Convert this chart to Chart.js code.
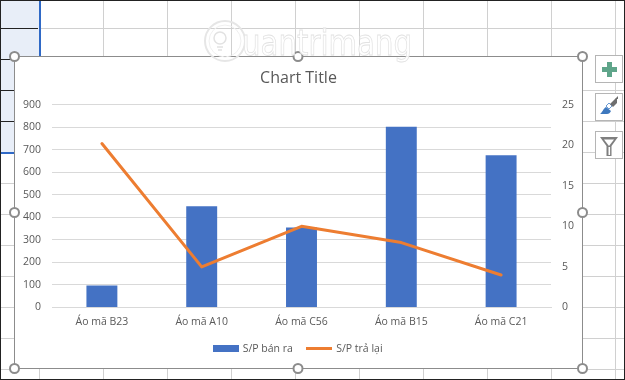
<!DOCTYPE html>
<html>
<head>
<meta charset="utf-8">
<title>Chart Title</title>
<script src="https://cdn.jsdelivr.net/npm/chart.js@4"></script>
<style>
  html, body { margin: 0; padding: 0; background: #fff; }
  #sheet { position: relative; width: 625px; height: 380px; overflow: hidden; }
  #sheet svg { position: absolute; left: 0; top: 0; }
  #box { position: absolute; left: 15px; top: 57px; width: 567px; height: 311px; background: #fff; }
</style>
</head>
<body>
<div id="sheet">
  <svg id="under" width="625" height="380"></svg>
  <div id="box"><canvas id="combo" width="567" height="311"></canvas></div>
  <svg id="over" width="625" height="380"></svg>
</div>
<script>
const categories = ["Áo mã B23", "Áo mã A10", "Áo mã C56", "Áo mã B15", "Áo mã C21"];
const soldValues = [98, 449, 355, 802, 675];
const returnedValues = [20.2, 5, 10, 8, 4];
const soldLabel = "S/P bán ra";
const returnedLabel = "S/P trả lại";

const BLUE = "#4472C4";
const ORANGE = "#ED7D31";
const TEXT = "#595959";
const GRID = "#D9D9D9";
const FONT = "'Open Sans'";

// excel sheet behind the chart, not chart data
function sheetLines() {
  let s = '<rect x="1" y="1" width="38" height="151" fill="#E8EEF8"/>';
  [103, 167, 231, 295, 359, 423, 487, 551].forEach((x) => {
    s += `<line x1="${x + 0.5}" y1="1" x2="${x + 0.5}" y2="56" stroke="#D0D0D0"/>`;
    s += `<line x1="${x + 0.5}" y1="369" x2="${x + 0.5}" y2="379" stroke="#D0D0D0"/>`;
  });
  s += '<line x1="39.5" y1="369" x2="39.5" y2="379" stroke="#D0D0D0"/>';
  s += '<line x1="615.5" y1="1" x2="615.5" y2="379" stroke="#D0D0D0"/>';
  s += '<line x1="41" y1="28.5" x2="625" y2="28.5" stroke="#D0D0D0"/>';
  [28, 59, 90, 121].forEach((y) => {
    s += `<line x1="1" y1="${y + 0.5}" x2="${y === 28 ? 38 : 14}" y2="${y + 0.5}" stroke="#222"/>`;
  });
  [183, 214, 245, 276, 307, 338, 369].forEach((y) => {
    s += `<line x1="1" y1="${y + 0.5}" x2="14" y2="${y + 0.5}" stroke="#D0D0D0"/>`;
  });
  [90, 121, 152, 183, 214, 245, 276, 307, 338, 369].forEach((y) => {
    s += `<line x1="583" y1="${y + 0.5}" x2="625" y2="${y + 0.5}" stroke="#D0D0D0"/>`;
  });
  s += `<rect x="39" y="1" width="2" height="55" fill="#2F69C6"/>`;
  s += `<rect x="1" y="152" width="14" height="2" fill="#2F69C6"/>`;
  return s;
}

function frameAndButtons() {
  let s = '<rect x="14.5" y="56.5" width="568" height="312" fill="none" stroke="#8C8C8C"/>';
  [[14.5, 56.5], [298, 56.5], [582.5, 56.5], [14.5, 212.5], [582.5, 212.5], [14.5, 368.5], [298, 368.5], [582.5, 368.5]].forEach((p) => {
    s += `<circle cx="${p[0]}" cy="${p[1]}" r="4.5" fill="#fff" stroke="#8C8C8C" stroke-width="2"/>`;
  });
  [55, 93, 131].forEach((y) => {
    s += `<rect x="595.5" y="${y + 0.5}" width="27" height="27" fill="#fff" stroke="#B5B5B5"/>`;
  });
  // plus
  s += '<path d="M607 62h5v5h5v5h-5v5h-5v-5h-5v-5h5z" fill="#5FA58A"/>';
  // brush
  s += '<path d="M600 114c2-1 3-5 6-7l5 4c-1 2-2 3-4 3z" fill="#3E78BE"/><path d="M606 106l3-3 3 3-3 3z" fill="none" stroke="#6C9BD2"/><path d="M610 104l5-5 2-1 0 5-4 4z" fill="#6E6E6E"/><path d="M615 99l3-3 0 3z" fill="#6E6E6E"/>';
  // funnel
  s += '<path d="M600 137h18l-6.5 9v10h-5v-10z" fill="#7F7F7F"/><path d="M604 139.5h10l-5 6.5z" fill="#fff"/><rect x="608.5" y="147" width="1.6" height="8" fill="#fff"/>';
  s += '<rect x="0" y="0" width="625" height="1" fill="#222"/><rect x="0" y="0" width="1" height="380" fill="#222"/><rect x="624" y="0" width="1" height="380" fill="#222"/><rect x="0" y="379" width="625" height="1" fill="#222"/>';
  // watermark
  s += '<circle cx="225" cy="41" r="20" fill="none" stroke="#E6E6E6" stroke-width="2"/><circle cx="225" cy="41" r="16" fill="none" stroke="#EFEFEF" stroke-width="1"/>';
  s += '<circle cx="220" cy="38" r="6" fill="none" stroke="#E2E2E2" stroke-width="1.5"/><path d="M217 47h6M218 50h4" stroke="#E2E2E2" stroke-width="1.5"/>';
  s += `<text x="242" y="55" font-family="'DejaVu Sans'" font-size="36" textLength="170" lengthAdjust="spacingAndGlyphs" fill="#fff" fill-opacity="0.85" stroke="#E2E2E2" stroke-width="0.8">uantrimang</text>`;
  return s;
}

document.getElementById("under").innerHTML = sheetLines();
document.getElementById("over").innerHTML = frameAndButtons();

function swatch(color, w, h) {
  const c = document.createElement("canvas");
  c.width = w;
  c.height = h;
  const g = c.getContext("2d");
  g.fillStyle = color;
  g.fillRect(0, 0, w, h);
  return c;
}
const barSwatch = swatch(BLUE, 26, 7);
const lineSwatch = swatch(ORANGE, 26, 3);

new Chart(document.getElementById("combo"), {
  data: {
    labels: categories,
    datasets: [
      { type: "bar", label: soldLabel, data: soldValues, yAxisID: "y", backgroundColor: BLUE, barPercentage: 0.31, categoryPercentage: 1, order: 2 },
      { type: "line", label: returnedLabel, data: returnedValues, yAxisID: "y2", borderColor: ORANGE, borderWidth: 3, borderCapStyle: "round", borderJoinStyle: "round", pointRadius: 0, tension: 0, fill: false, order: 1 },
    ],
  },
  options: {
    responsive: false,
    animation: false,
    layout: { padding: { bottom: 4 } },
    plugins: {
      tooltip: { enabled: false },
      title: { display: true, text: "Chart Title", color: TEXT, font: { family: FONT, size: 16, weight: "normal" }, padding: { top: 11.4, bottom: 17 } },
      legend: {
        position: "bottom",
        labels: {
          color: TEXT,
          font: { family: FONT, size: 10.5 },
          usePointStyle: true,
          pointStyleWidth: 23,
          padding: 15,
          generateLabels: () => [
            { text: soldLabel, pointStyle: barSwatch, fontColor: TEXT, datasetIndex: 0 },
            { text: returnedLabel, pointStyle: lineSwatch, fontColor: TEXT, datasetIndex: 1 },
          ],
        },
      },
    },
    scales: {
      x: {
        grid: { display: false, drawTicks: false },
        border: { color: GRID },
        ticks: { color: TEXT, font: { family: FONT, size: 10.5 }, padding: 8, maxRotation: 0 },
        afterFit: (s) => { s.height = 21; },
      },
      y: {
        position: "left",
        min: 0,
        max: 900,
        ticks: { stepSize: 100, color: TEXT, font: { family: FONT, size: 10.5 }, padding: 11 },
        grid: { color: GRID, drawTicks: false },
        border: { display: false },
        afterFit: (s) => { s.width = 37; },
      },
      y2: {
        position: "right",
        min: 0,
        max: 25,
        ticks: { stepSize: 5, color: TEXT, font: { family: FONT, size: 10.5 }, padding: 11 },
        grid: { display: false, drawTicks: false },
        border: { display: false },
        afterFit: (s) => { s.width = 31; },
      },
    },
  },
});
</script>
</body>
</html>
